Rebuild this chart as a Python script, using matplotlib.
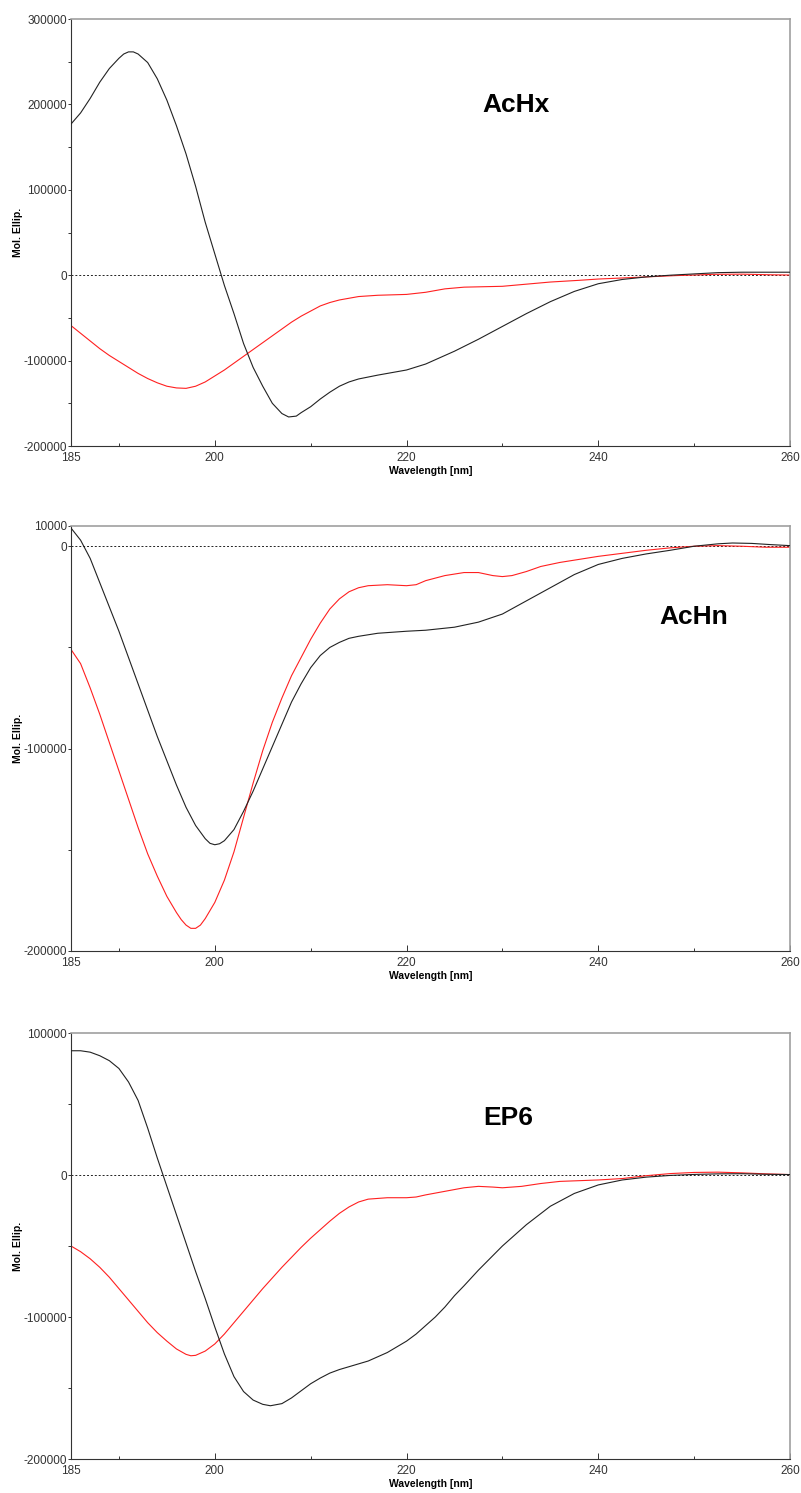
import numpy as np
import matplotlib
matplotlib.use("Agg")
import matplotlib.pyplot as plt

plt.rcParams['font.family'] = ['Liberation Sans', 'DejaVu Sans']

# ---- AcHx ----
achx_black_wl = [185, 186, 187, 188, 189, 190, 190.5, 191, 191.5, 192, 193, 194, 195, 196, 197,
                 198, 199, 200, 201, 202, 203, 204, 205, 206, 207, 207.7, 208.5, 209, 210, 211,
                 212, 213, 214, 215, 217, 220, 222, 225, 227.5, 230, 232.5, 235, 237.5, 240,
                 242.5, 245, 247.5, 250, 252.5, 255, 257.5, 260]
achx_black = [177000, 190000, 207000, 226000, 242000, 254000, 259000, 261500, 261500, 259000,
              249000, 230000, 205000, 175000, 142000, 104000, 62000, 25000, -12000, -45000,
              -80000, -108000, -130000, -150000, -162000, -166000, -165000, -161000, -154000,
              -145000, -137000, -130000, -125000, -121500, -117000, -111000, -104000, -89000,
              -75000, -60000, -45000, -31000, -19000, -10000, -5000, -2000, 0, 1500, 3000,
              3500, 3500, 3500]
achx_red_wl = [185, 186, 187, 188, 189, 190, 191, 192, 193, 194, 195, 196, 197, 198, 199, 200,
               201, 202, 203, 204, 205, 206, 207, 208, 209, 210, 211, 212, 213, 214, 215, 217,
               220, 222, 224, 226, 228, 230, 232, 235, 238, 240, 243, 245, 248, 250, 252, 255,
               258, 260]
achx_red = [-59000, -68000, -77000, -86000, -94000, -101000, -108000, -115000, -121000, -126000,
            -130000, -132000, -132500, -130000, -125000, -118000, -111000, -103000, -95000,
            -87000, -79000, -71000, -63000, -55000, -48000, -42000, -36000, -32000, -29000,
            -27000, -25000, -23500, -22500, -20000, -16000, -14000, -13500, -13000, -11000,
            -8000, -6000, -4500, -3000, -2000, -500, 200, 1000, 1200, 500, 200]

# ---- AcHn ----
achn_black_wl = [185, 186, 187, 188, 189, 190, 191, 192, 193, 194, 195, 196, 197, 198, 199,
                 199.5, 200, 200.5, 201, 202, 203, 204, 205, 206, 207, 208, 209, 210, 211, 212,
                 213, 214, 215, 217, 220, 222, 225, 227.5, 230, 232.5, 235, 237.5, 240, 242.5,
                 245, 247.5, 250, 252.5, 254, 256, 258, 260]
achn_black = [9000, 3000, -6000, -18000, -30000, -42000, -55000, -68000, -81000, -94000, -106000,
              -118000, -129000, -138000, -144500, -146800, -147500, -147000, -145500, -140000,
              -131000, -121000, -110000, -99000, -88000, -77000, -68000, -60000, -54000, -50000,
              -47500, -45500, -44500, -43000, -42000, -41500, -40000, -37500, -33500, -27000,
              -20500, -14000, -9000, -6000, -3800, -2000, 0, 1200, 1600, 1400, 800, 300]
achn_red_wl = [185, 186, 187, 188, 189, 190, 191, 192, 193, 194, 195, 196, 196.5, 197, 197.5, 198,
               198.5, 199, 200, 201, 202, 203, 204, 205, 206, 207, 208, 209, 210, 211, 212, 213,
               214, 215, 216, 218, 220, 221, 222, 224, 226, 227.5, 229, 230, 231, 232.5, 234,
               236, 238, 240, 242.5, 245, 247.5, 250, 252.5, 255, 257.5, 260]
achn_red = [-51000, -58000, -70000, -83000, -97000, -111000, -125000, -139000, -152000, -163000,
            -173000, -181000, -184500, -187200, -188800, -188800, -187200, -184000, -176000,
            -165000, -151000, -134000, -117000, -101000, -87000, -75000, -64000, -55000, -46000,
            -38000, -31000, -26000, -22500, -20500, -19500, -19000, -19500, -19000, -17000,
            -14500, -13000, -13000, -14500, -15000, -14500, -12500, -10000, -8000, -6500, -5000,
            -3500, -2000, -800, 0, 300, 0, -500, -500]

# ---- EP6 ----
ep6_black_wl = [185, 186, 187, 188, 189, 190, 191, 192, 193, 194, 195, 196, 197, 198, 199,
                200, 201, 202, 203, 204, 205, 205.8, 207, 208, 209, 210, 211, 212, 213, 214, 215,
                216, 217, 218, 219, 220, 221, 222, 223, 224, 225, 226, 227.5, 230, 232.5, 235,
                237.5, 240, 242.5, 245, 247.5, 250, 252.5, 255, 257.5, 260]
ep6_black = [87500, 87500, 86500, 84000, 80500, 75000, 65500, 52500, 33000, 12000, -8000,
             -28000, -48000, -68000, -87000, -107000, -126000, -142000, -152500, -158500,
             -161500, -162500, -161000, -157000, -152000, -147000, -143000, -139500, -137000,
             -135000, -133000, -131000, -128000, -125000, -121000, -117000, -112000, -106000,
             -100000, -93000, -85000, -78000, -67000, -50000, -35000, -22000, -13000, -7000,
             -3500, -1500, -300, 400, 800, 900, 500, 300]
ep6_red_wl = [185, 186, 187, 188, 189, 190, 191, 192, 193, 194, 195, 196, 197, 197.5, 198, 199,
              200, 201, 202, 203, 204, 205, 206, 207, 208, 209, 210, 211, 212, 213, 214, 215,
              216, 218, 220, 221, 222, 224, 226, 227.5, 229, 230, 232, 234, 236, 238, 240,
              242.5, 245, 247.5, 250, 252.5, 255, 257.5, 260]
ep6_red = [-50000, -54000, -59000, -65000, -72000, -80000, -88000, -96000, -104000, -111000,
           -117000, -122500, -126300, -127300, -127000, -124000, -119000, -112000, -104000,
           -96000, -88000, -80000, -72500, -65000, -58000, -51000, -44500, -38500, -32500,
           -27000, -22500, -19000, -17000, -16000, -16000, -15500, -14000, -11500, -9000,
           -8000, -8500, -9000, -8000, -6000, -4500, -4000, -3500, -2500, -500, 1000, 1800,
           2000, 1500, 800, 300]

x_major = [185, 200, 220, 240, 260]
x_minor = [190, 210, 230, 250]

panels = [
    dict(name='AcHx', black=(achx_black_wl, achx_black), red=(achx_red_wl, achx_red),
         ylim=(-200000, 300000), yticks=[-200000, -100000, 0, 100000, 200000, 300000],
         yminor=[-150000, -50000, 50000, 150000, 250000], label_pos=(231.4, 199000),
         rect=[71, 19, 719, 427]),
    dict(name='AcHn', black=(achn_black_wl, achn_black), red=(achn_red_wl, achn_red),
         ylim=(-200000, 10000), yticks=[-200000, -100000, 0, 10000],
         yminor=[-150000, -50000], label_pos=(250.0, -35000),
         rect=[71, 526, 719, 425]),
    dict(name='EP6', black=(ep6_black_wl, ep6_black), red=(ep6_red_wl, ep6_red),
         ylim=(-200000, 100000), yticks=[-200000, -100000, 0, 100000],
         yminor=[-150000, -50000, 50000], label_pos=(230.6, 40000),
         rect=[71, 1033, 719, 426]),
]

W, H = 801, 1493
fig = plt.figure(figsize=(W / 100, H / 100), dpi=100)

for p in panels:
    x0, y0, w, h = p['rect']
    ax = fig.add_axes([x0 / W, 1 - (y0 + h) / H, w / W, h / H])

    ax.axhline(0, color='#222222', lw=0.7, ls=(0, (2, 2)), zorder=1)
    ax.plot(*p['red'], color='#ff2020', lw=0.8, zorder=2)
    ax.plot(*p['black'], color='#222222', lw=0.8, zorder=3)

    ax.set_xlim(185, 260)
    ax.set_ylim(*p['ylim'])
    ax.set_xticks(x_major)
    ax.set_xticks(x_minor, minor=True)
    ax.set_yticks(p['yticks'])
    ax.set_yticks(p['yminor'], minor=True)
    ax.set_yticklabels([str(v) for v in p['yticks']])

    ax.tick_params(axis='x', which='major', direction='in', length=4, width=0.7,
                   color='#333333', labelsize=8.5, labelcolor='#333333', pad=4)
    ax.tick_params(axis='x', which='minor', direction='in', length=2.5, width=0.7,
                   color='#333333')
    ax.tick_params(axis='y', which='both', direction='out', length=2.5, width=0.7,
                   color='#333333', labelsize=8.5, labelcolor='#333333', pad=0.5)

    for side in ['top', 'right']:
        ax.spines[side].set_color('#a0a0a0')
        ax.spines[side].set_linewidth(1.2)
    for side in ['left', 'bottom']:
        ax.spines[side].set_color('#333333')
        ax.spines[side].set_linewidth(0.8)

    ax.set_xlabel('Wavelength [nm]', fontsize=7.5, fontweight='bold')
    ax.set_ylabel('Mol. Ellip.', fontsize=7.5, fontweight='bold')
    ax.xaxis.set_label_coords(0.5, -20 / h)
    ax.yaxis.set_label_coords(-48 / w, 0.5)

    ax.text(*p['label_pos'], p['name'], fontsize=19, fontweight='bold',
            ha='center', va='center')

fig.savefig('out.png', dpi=100)
